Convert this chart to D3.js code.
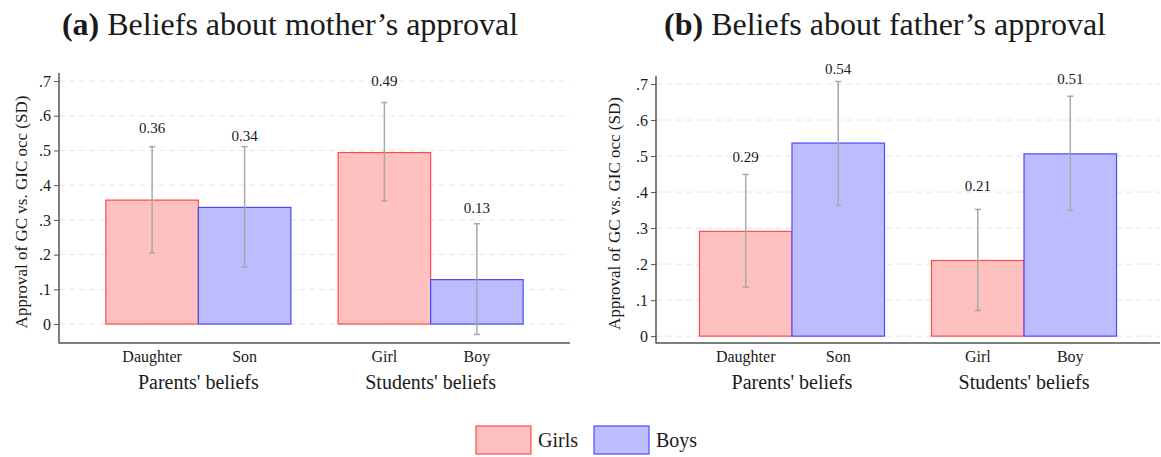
<!DOCTYPE html>
<html>
<head>
<meta charset="utf-8">
<script src="https://cdn.jsdelivr.net/npm/d3@7"></script>
<style>
  body { margin: 0; background: #fff; }
  svg { display: block; }
  svg text { font-family: "Liberation Serif", "DejaVu Serif", serif !important; fill: #1a1a1a; }
</style>
</head>
<body>
<svg id="chart" width="1161" height="457"></svg>
<script>
// Data
var groups = ["Parents' beliefs", "Students' beliefs"];
var series = ["Girls", "Boys"];
var tickLabels = [["Daughter", "Son"], ["Girl", "Boy"]];
var yTicks = [0, 0.1, 0.2, 0.3, 0.4, 0.5, 0.6, 0.7];

// mother panel: [Girls, Boys] per group
var motherValues = [[0.357, 0.336], [0.494, 0.128]];
var motherLow = [[0.205, 0.165], [0.355, -0.03]];
var motherHigh = [[0.511, 0.511], [0.638, 0.289]];

// father panel
var fatherValues = [[0.291, 0.536], [0.21, 0.506]];
var fatherLow = [[0.136, 0.363], [0.071, 0.349]];
var fatherHigh = [[0.449, 0.707], [0.352, 0.666]];

var fillColors = { Girls: "#ffc0c0", Boys: "#bcbcff" };
var strokeColors = { Girls: "#ff4a4a", Boys: "#4a4aff" };

var svg = d3.select("#chart");

function drawPanel(cfg) {
    var g = svg.append("g");

    var y = d3.scaleLinear().domain(cfg.yDomain).range([cfg.bottom, cfg.top]);
    var x0 = d3.scalePoint().domain(groups).range([cfg.left, cfg.right]).padding(cfg.pad);
    var x1 = d3.scaleBand().domain(series).range([-cfg.barW, cfg.barW]);

    // grid lines
    g.selectAll(".grid")
        .data(yTicks)
        .enter()
        .append("line")
        .attr("x1", cfg.left)
        .attr("x2", cfg.right)
        .attr("y1", d => y(d))
        .attr("y2", d => y(d))
        .attr("stroke", "#e6e6e6")
        .attr("stroke-width", 1)
        .attr("stroke-dasharray", "6,4");

    // bars
    var rows = [];
    groups.forEach(function (grp, gi) {
        series.forEach(function (s, si) {
            rows.push({
                group: grp, series: s, label: tickLabels[gi][si],
                value: cfg.values[gi][si], lo: cfg.low[gi][si], hi: cfg.high[gi][si]
            });
        });
    });

    g.selectAll(".bar")
        .data(rows)
        .enter()
        .append("rect")
        .attr("x", d => x0(d.group) + x1(d.series))
        .attr("y", d => y(d.value))
        .attr("width", x1.bandwidth())
        .attr("height", d => y(0) - y(d.value))
        .attr("fill", d => fillColors[d.series])
        .attr("stroke", d => strokeColors[d.series])
        .attr("stroke-width", 1.2);

    // error bars
    var cx = d => x0(d.group) + x1(d.series) + x1.bandwidth() / 2;
    var eb = g.selectAll(".err").data(rows).enter().append("g").attr("stroke", "#a8a8a8").attr("stroke-width", 1.5);
    eb.append("line").attr("x1", cx).attr("x2", cx).attr("y1", d => y(d.lo)).attr("y2", d => y(d.hi));
    eb.append("line").attr("x1", d => cx(d) - 3).attr("x2", d => cx(d) + 3).attr("y1", d => y(d.lo)).attr("y2", d => y(d.lo));
    eb.append("line").attr("x1", d => cx(d) - 3).attr("x2", d => cx(d) + 3).attr("y1", d => y(d.hi)).attr("y2", d => y(d.hi));

    // value labels
    g.selectAll(".val")
        .data(rows)
        .enter()
        .append("text")
        .attr("x", cx)
        .attr("y", d => y(d.value + 0.207) + 5)
        .attr("text-anchor", "middle")
        .attr("font-size", "15px")
        .text(d => d3.format(".2f")(d.value));

    // axes
    var yAxis = d3.axisLeft(y).tickValues(yTicks).tickSize(5).tickPadding(3)
        .tickFormat(d => d === 0 ? "0" : d3.format(".1f")(d).replace(/^0/, ""));
    var ya = g.append("g").attr("transform", "translate(" + cfg.left + ",0)").call(yAxis);
    ya.select(".domain").remove();
    ya.selectAll(".tick line").attr("stroke", "#555");
    ya.selectAll(".tick text").attr("font-size", "16px");

    g.append("line").attr("x1", cfg.left).attr("x2", cfg.left)
        .attr("y1", cfg.top - 8).attr("y2", cfg.bottom + 0.5)
        .attr("stroke", "#555").attr("stroke-width", 1.5);
    g.append("line").attr("x1", cfg.left).attr("x2", cfg.right)
        .attr("y1", cfg.bottom).attr("y2", cfg.bottom)
        .attr("stroke", "#555").attr("stroke-width", 1.5);

    // x tick labels
    g.selectAll(".xt")
        .data(rows)
        .enter()
        .append("text")
        .attr("x", cx)
        .attr("y", cfg.bottom + 19)
        .attr("text-anchor", "middle")
        .attr("font-size", "16px")
        .text(d => d.label);

    g.selectAll(".xg")
        .data(groups)
        .enter()
        .append("text")
        .attr("x", d => x0(d))
        .attr("y", cfg.bottom + 46)
        .attr("text-anchor", "middle")
        .attr("font-size", "20px")
        .text(d => d);

    // y title
    g.append("text")
        .attr("transform", "translate(" + cfg.yTitleX + "," + (cfg.top + cfg.bottom) / 2 + ") rotate(-90)")
        .attr("text-anchor", "middle")
        .attr("font-size", "17px")
        .text("Approval of GC vs. GIC occ (SD)");

    // panel title
    var t = g.append("text")
        .attr("x", cfg.titleX)
        .attr("y", 35)
        .attr("text-anchor", "middle")
        .attr("font-size", "32px");
    t.append("tspan").attr("font-weight", "bold").text(cfg.tag);
    t.append("tspan").text(" " + cfg.title);
}

drawPanel({
    left: 59, right: 570, top: 81, bottom: 343,
    yDomain: [-0.0545, 0.7], pad: 0.6, barW: 92.5,
    values: motherValues, low: motherLow, high: motherHigh,
    yTitleX: 27, titleX: 290, tag: "(a)", title: "Beliefs about mother\u2019s approval"
});

drawPanel({
    left: 656, right: 1160, top: 84, bottom: 343,
    yDomain: [-0.019, 0.7], pad: 0.586, barW: 92.5,
    values: fatherValues, low: fatherLow, high: fatherHigh,
    yTitleX: 620, titleX: 885, tag: "(b)", title: "Beliefs about father\u2019s approval"
});

// legend
var legend = svg.append("g");
var legendX = d3.scalePoint().domain(series).range([476, 594]);
var li = legend.selectAll(".leg").data(series).enter().append("g")
    .attr("transform", d => "translate(" + legendX(d) + ",426)");
li.append("rect").attr("width", 55).attr("height", 28)
    .attr("fill", d => fillColors[d]).attr("stroke", d => strokeColors[d]).attr("stroke-width", 1.2);
li.append("text").attr("x", 62).attr("y", 21).attr("font-size", "20px").text(d => d);
</script>
</body>
</html>
